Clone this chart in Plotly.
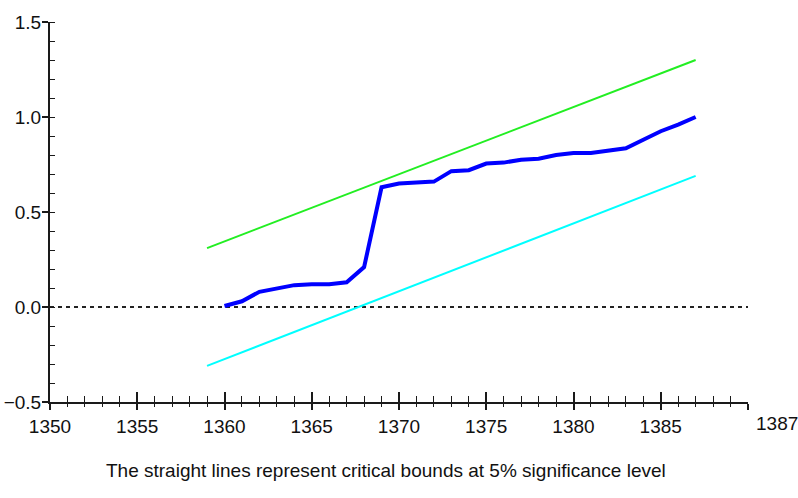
import plotly.graph_objects as go

# ---- data ----
years = list(range(1360, 1388))
cusumsq = [0.005, 0.03, 0.08, 0.10, 0.115, 0.12, 0.12, 0.13, 0.21, 0.63,
           0.65, 0.655, 0.66, 0.715, 0.72, 0.755, 0.76, 0.775, 0.78, 0.80,
           0.81, 0.81, 0.825, 0.835, 0.88, 0.925, 0.96, 1.00]

bound_years = [1359, 1387]
upper_bound = [0.31, 1.30]
lower_bound = [-0.31, 0.69]

x_tick_vals = [1350, 1355, 1360, 1365, 1370, 1375, 1380, 1385, 1390]
x_tick_text = ["1350", "1355", "1360", "1365", "1370", "1375", "1380", "1385", ""]
end_label = "1387"
y_tick_vals = [-0.5, 0.0, 0.5, 1.0, 1.5]
caption = "The straight lines represent critical bounds at 5% significance level"

FONT = "Liberation Sans, Arial, sans-serif"
AXC = "#1a1a1a"
TICKSIZE = 19

fig = go.Figure()

fig.add_trace(go.Scatter(x=bound_years, y=upper_bound, mode="lines",
                         line=dict(color="#22ee22", width=2), hoverinfo="skip"))
fig.add_trace(go.Scatter(x=bound_years, y=lower_bound, mode="lines",
                         line=dict(color="#00ffff", width=2), hoverinfo="skip",
                         xaxis="x2"))
fig.add_trace(go.Scatter(x=years, y=cusumsq, mode="lines",
                         line=dict(color="#0000ff", width=4), hoverinfo="skip"))

# zero reference line
fig.add_shape(type="line", xref="paper", x0=0, x1=1, yref="y", y0=0, y1=0,
              line=dict(color="#222222", width=2, dash="4px,4px"), layer="below")

fig.update_layout(
    width=798, height=498,
    margin=dict(l=50, r=50, t=22, b=96, autoexpand=False),
    paper_bgcolor="white", plot_bgcolor="white",
    showlegend=False,
    font=dict(family=FONT, size=TICKSIZE, color="#111111"),
    xaxis=dict(
        range=[1350, 1390], tickmode="array", tickvals=x_tick_vals, ticktext=x_tick_text,
        ticks="outside", ticklen=6, tickwidth=1.5, tickcolor=AXC, automargin=False,
        showline=True, linecolor=AXC, linewidth=2, showgrid=False, zeroline=False,
        ticklabelstandoff=0,
        minor=dict(tickmode="linear", tick0=1350, dtick=1, ticks="outside",
                   ticklen=3, tickwidth=1.2, tickcolor=AXC, showgrid=False),
        tickfont=dict(family=FONT, size=TICKSIZE),
    ),
    xaxis2=dict(
        range=[1350, 1390], overlaying="x", anchor="y", side="bottom",
        tickmode="array", tickvals=x_tick_vals, showticklabels=False, automargin=False,
        ticks="inside", ticklen=10, tickwidth=1.5, tickcolor=AXC,
        showline=False, showgrid=False, zeroline=False,
        minor=dict(tickmode="linear", tick0=1350, dtick=1, ticks="inside",
                   ticklen=6, tickwidth=1.2, tickcolor=AXC, showgrid=False),
    ),
    yaxis=dict(
        range=[-0.5, 1.5], tickmode="array", tickvals=y_tick_vals, tickformat=".1f",
        ticks="outside", ticklen=6, tickwidth=1.5, tickcolor=AXC, automargin=False,
        showline=True, linecolor=AXC, linewidth=2, showgrid=False, zeroline=False,
        ticklabelstandoff=-3,
        minor=dict(tickmode="linear", tick0=-0.5, dtick=0.1, ticks="inside",
                   ticklen=5, tickwidth=1.2, tickcolor=AXC, showgrid=False),
        tickfont=dict(family=FONT, size=TICKSIZE),
    ),
    hovermode=False,
)

fig.add_annotation(text=end_label, xref="x", x=1390, yref="paper", y=0,
                   xanchor="left", yanchor="top", xshift=6, yshift=-9,
                   showarrow=False, font=dict(family=FONT, size=TICKSIZE))
fig.add_annotation(text=caption, xref="paper", x=0.481, yref="paper", y=0,
                   xanchor="center", yanchor="middle", yshift=-68,
                   showarrow=False, font=dict(family=FONT, size=19))

fig.write_html("out.html", config={"displayModeBar": False},
               post_script="document.body.style.margin='0';document.body.style.overflow='hidden';")
